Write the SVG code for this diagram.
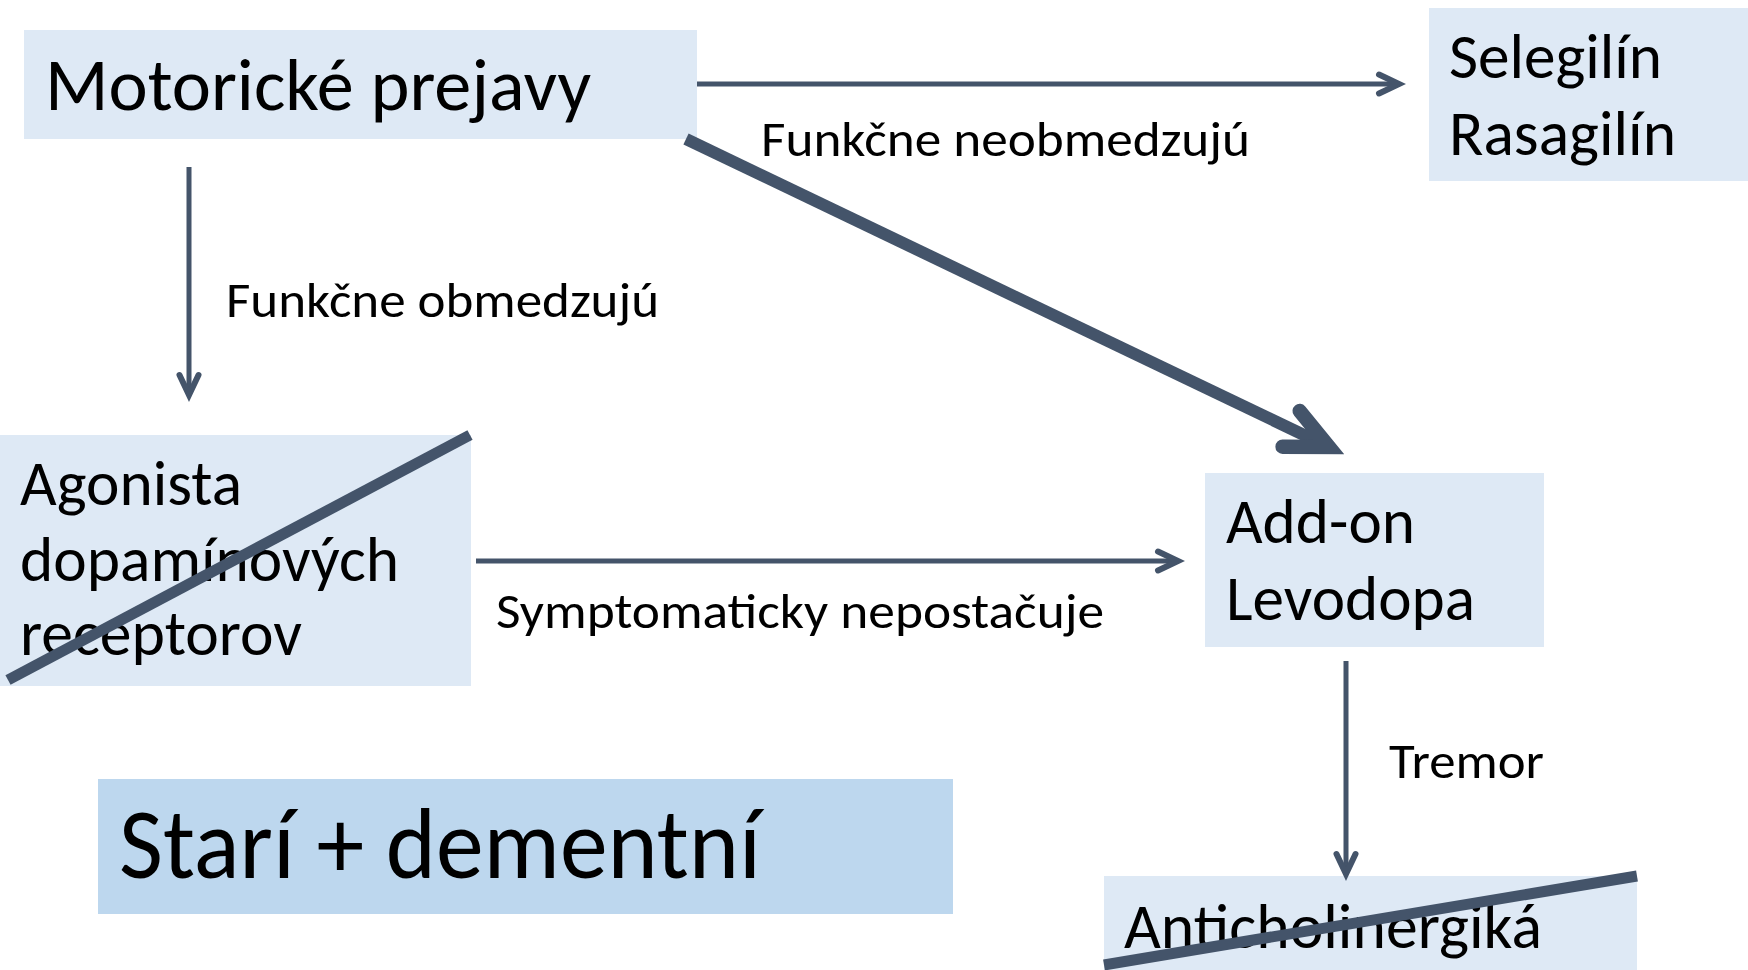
<svg xmlns="http://www.w3.org/2000/svg" width="1748" height="970" viewBox="0 0 1748 970">
  <style>
    .box { fill: #DEE9F5; }
    .box-dark { fill: #BDD7EE; }
    .t { font-family: Carlito, "Open Sans", "Liberation Sans", sans-serif; fill: #000; }
    .node-text { font-size: 64px; }
    .label { font-size: 50px; }
    .link { stroke: #44546A; fill: none; stroke-linecap: butt; }
    .thin { stroke-width: 5; }
    .thick { stroke-width: 12; }
    .strike { stroke: #44546A; stroke-width: 11; }
    .head { fill: none; stroke: #44546A; stroke-width: 1.2; stroke-linecap: round; stroke-linejoin: miter; stroke-miterlimit: 10; }
  </style>
  <defs>
    <!-- open chevron heads, sized relative to the line's stroke width -->
    <marker id="chevron" markerUnits="strokeWidth" markerWidth="7" markerHeight="7" viewBox="0 0 7 7" refX="5.5" refY="3.5" orient="auto" overflow="visible">
      <path class="head" d="M1.5,1.6 L5.5,3.5 L1.5,5.4"/>
    </marker>
    <marker id="chevron-bold" markerUnits="strokeWidth" markerWidth="7" markerHeight="7" viewBox="0 0 7 7" refX="5.5" refY="3.5" orient="auto" overflow="visible">
      <path class="head" d="M2,1.85 L5.5,3.5 L2,5.15"/>
    </marker>
  </defs>

  <rect width="1748" height="970" fill="#FFFFFF"/>

  <!-- nodes -->
  <g id="motoricke">
    <rect class="box" x="24" y="30" width="673" height="109"/>
    <text class="t" x="45" y="110" font-size="73" textLength="546" lengthAdjust="spacingAndGlyphs">Motorické prejavy</text>
  </g>

  <g id="selegilin">
    <rect class="box" x="1429" y="8" width="319" height="173"/>
    <text class="t node-text" x="1449" y="78" textLength="213" lengthAdjust="spacingAndGlyphs">Selegilín</text>
    <text class="t node-text" x="1449" y="155" textLength="227" lengthAdjust="spacingAndGlyphs">Rasagilín</text>
  </g>

  <g id="agonista">
    <rect class="box" x="0" y="435" width="471" height="251"/>
    <text class="t node-text" x="20" y="505" textLength="222" lengthAdjust="spacingAndGlyphs">Agonista</text>
    <text class="t node-text" x="20" y="581" textLength="379" lengthAdjust="spacingAndGlyphs">dopamínových</text>
    <text class="t node-text" x="20" y="655" textLength="282" lengthAdjust="spacingAndGlyphs">receptorov</text>
    <line class="strike" x1="8" y1="680" x2="470" y2="435"/>
  </g>

  <g id="addon">
    <rect class="box" x="1205" y="473" width="339" height="174"/>
    <text class="t node-text" x="1226" y="543" textLength="189" lengthAdjust="spacingAndGlyphs">Add-on</text>
    <text class="t node-text" x="1226" y="620" textLength="249" lengthAdjust="spacingAndGlyphs">Levodopa</text>
  </g>

  <g id="anticholinergika">
    <rect class="box" x="1104" y="876" width="533" height="94"/>
    <text class="t node-text" x="1124" y="948" textLength="418" lengthAdjust="spacingAndGlyphs">Anticholinergiká</text>
    <line class="strike" x1="1104" y1="965" x2="1637" y2="876"/>
  </g>

  <g id="stari">
    <rect class="box-dark" x="98" y="779" width="855" height="135"/>
    <text class="t" x="119" y="878" font-size="100" textLength="642" lengthAdjust="spacingAndGlyphs">Starí + dementní</text>
  </g>

  <!-- connectors -->
  <g id="connectors">
    <line class="link thin" x1="697" y1="84" x2="1399" y2="84" marker-end="url(#chevron)"/>
    <line class="link thin" x1="189" y1="167" x2="189" y2="395" marker-end="url(#chevron)"/>
    <line class="link thick" x1="686" y1="139" x2="1329" y2="447" marker-end="url(#chevron-bold)"/>
    <line class="link thin" x1="476" y1="561" x2="1178" y2="561" marker-end="url(#chevron)"/>
    <line class="link thin" x1="1346" y1="661" x2="1346" y2="874" marker-end="url(#chevron)"/>

    <text class="t label" x="761" y="156" textLength="489" lengthAdjust="spacingAndGlyphs">Funkčne neobmedzujú</text>
    <text class="t label" x="226" y="317" textLength="433" lengthAdjust="spacingAndGlyphs">Funkčne obmedzujú</text>
    <text class="t label" x="496" y="628" textLength="608" lengthAdjust="spacingAndGlyphs">Symptomaticky nepostačuje</text>
    <text class="t label" x="1389" y="778" textLength="155" lengthAdjust="spacingAndGlyphs">Tremor</text>
  </g>
</svg>
